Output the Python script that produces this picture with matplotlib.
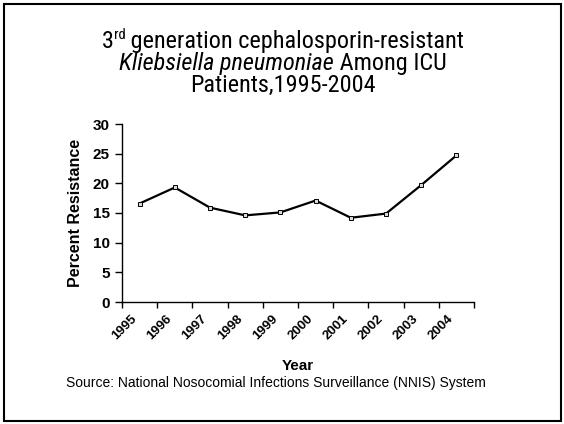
import numpy as np
import matplotlib
matplotlib.use('Agg')
import matplotlib.pyplot as plt
import matplotlib.transforms as mtransforms
from matplotlib import font_manager
from matplotlib.patches import Rectangle

years = ['1995', '1996', '1997', '1998', '1999', '2000', '2001', '2002', '2003', '2004']
resistance = [16.6, 19.3, 15.9, 14.6, 15.1, 17.1, 14.2, 14.9, 19.7, 24.7]
y_ticks = [0, 5, 10, 15, 20, 25, 30]

available = {f.name for f in font_manager.fontManager.ttflist}
narrow_name = next((n for n in ['Liberation Sans Narrow', 'Arial Narrow', 'DejaVu Sans Condensed',
                                'Roboto Condensed', 'Liberation Sans'] if n in available), 'DejaVu Sans')
narrow = [narrow_name, 'DejaVu Sans']
sans = ['Liberation Sans', 'DejaVu Sans']

fig = plt.figure(figsize=(5.64, 4.24), dpi=100)
ax = fig.add_axes([122 / 564, 1 - 302 / 424, (474 - 122) / 564, (302 - 124) / 424])

x = np.arange(len(years))
ax.plot(x, resistance, color='black', linewidth=1.6, marker='s', markersize=3.2,
        markerfacecolor='#d8d8d8', markeredgecolor='black', markeredgewidth=0.7, zorder=3)

ax.set_xlim(-0.5, len(years) - 0.5)
ax.set_ylim(0, 30)
for s in ['top', 'right']:
    ax.spines[s].set_visible(False)
for s in ['left', 'bottom']:
    ax.spines[s].set_linewidth(1.0)

ax.set_yticks(y_ticks)
ax.set_yticklabels([str(v) for v in y_ticks], fontfamily=sans, fontweight='bold', fontsize=11)
ax.tick_params(axis='y', length=5, width=1, pad=4)

# ticks on category boundaries, labels on category centres
ax.set_xticks(np.arange(-0.5, len(years), 1))
ax.set_xticklabels([])
ax.tick_params(axis='x', which='major', length=4, width=1)
ax.set_xticks(x, minor=True)
ax.set_xticklabels(years, minor=True, rotation=45, ha='right', rotation_mode='anchor',
                   fontfamily=sans, fontweight='bold', fontsize=9.5)
ax.tick_params(axis='x', which='minor', length=0, pad=8)
shift = mtransforms.ScaledTranslation(-9 / 100, 0, fig.dpi_scale_trans)
for lab in ax.get_xticklabels(minor=True):
    lab.set_transform(lab.get_transform() + shift)

ax.set_ylabel('Percent Resistance', fontfamily=sans, fontweight='bold', fontsize=11.5, labelpad=7)
fig.text(298 / 564, 1 - 366 / 424, 'Year', ha='center', va='center',
         fontfamily=sans, fontweight='bold', fontsize=11)
fig.text(276 / 564, 1 - 383 / 424,
         'Source: National Nosocomial Infections Surveillance (NNIS) System',
         ha='center', va='center', fontfamily=sans, fontsize=10)

# title built from pieces (superscript + italic part)
renderer = fig.canvas.get_renderer()
tsize = 17.5


def line_of(parts, y_px, cx_px=283):
    texts = []
    for s, style, dy, size in parts:
        t = fig.text(0, 1 - (y_px - dy) / 424, s, fontfamily=narrow, fontstyle=style,
                     fontstretch='condensed', fontsize=size, ha='left', va='baseline')
        texts.append(t)
    widths = [t.get_window_extent(renderer).width for t in texts]
    x0 = cx_px - sum(widths) / 2
    for t, w in zip(texts, widths):
        t.set_x(x0 / 564)
        x0 += w


line_of([('3', 'normal', 0, tsize), ('rd', 'normal', 9, 10.5),
         (' generation cephalosporin-resistant', 'normal', 0, tsize)], 48)
line_of([('Kliebsiella pneumoniae', 'italic', 0, tsize), (' Among ICU', 'normal', 0, tsize)], 70)
line_of([('Patients,1995-2004', 'normal', 0, tsize)], 92)

fig.patches.append(Rectangle((3.5 / 564, 3 / 424), 557.5 / 564, 417.5 / 424,
                             transform=fig.transFigure, fill=False,
                             edgecolor='black', linewidth=1.5))

fig.savefig('out.png', dpi=100)
